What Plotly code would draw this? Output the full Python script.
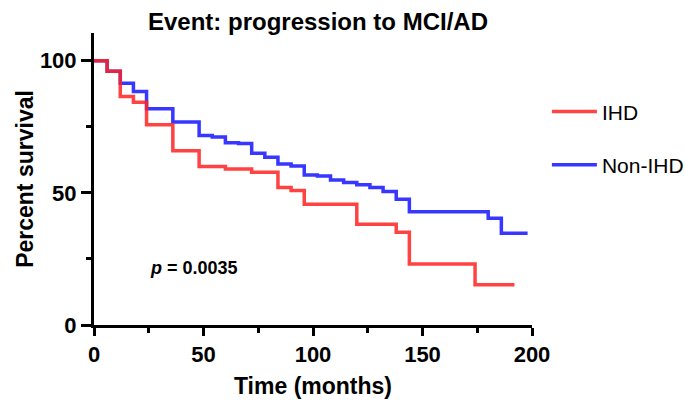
import plotly.graph_objects as go

# Kaplan-Meier step data (months, percent survival)
ihd_time = [0, 6, 12, 18, 24, 36, 48, 60, 72, 84, 90, 96, 120, 138, 144, 174, 192]
ihd_surv = [100, 96, 86.5, 84.3, 75.8, 65.9, 60.0, 59.0, 57.8, 52.0, 50.9, 45.7, 38.1, 35.1, 23.1, 15.2, 15.2]

non_time = [0, 6, 12, 18, 24, 36, 48, 54, 60, 66, 72, 78, 84, 90, 96, 102, 108, 114, 120, 126,
            132, 138, 144, 180, 186, 198]
non_surv = [100, 96, 91.5, 88.4, 81.8, 76.8, 71.7, 71.1, 69.0, 68.7, 65.0, 63.5, 60.9, 60.2, 56.8,
            56.4, 54.9, 53.9, 53.1, 52.0, 50.5, 47.6, 42.9, 40.4, 34.7, 34.7]

x_ticks = [0, 50, 100, 150, 200]
y_ticks = [0, 50, 100]
x_labels = ["<b>%d</b>" % v for v in x_ticks]
y_labels = ["<b>%d</b>" % v for v in y_ticks]

FONT = "Liberation Sans, Arial, sans-serif"

fig = go.Figure()
fig.add_trace(go.Scatter(
    x=non_time, y=non_surv, mode="lines", name="Non-IHD",
    line=dict(color="rgb(55,55,255)", width=3.5, shape="hv"),
    legendgroup="b", legendrank=2,
))
fig.add_trace(go.Scatter(
    x=ihd_time, y=ihd_surv, mode="lines", name="IHD",
    line=dict(color="rgb(255,35,35)", width=3.5, shape="hv"),
    opacity=0.85,
    legendgroup="a", legendrank=1,
))

fig.add_annotation(
    x=24.5, y=21.6, xref="x", yref="y", xanchor="left", yanchor="middle",
    text="<b><i>p</i> = 0.0035</b>", showarrow=False,
    font=dict(family=FONT, size=18, color="black"),
)

fig.update_layout(
    width=685, height=406,
    margin=dict(l=94, r=153, t=33, b=81, autoexpand=False),
    paper_bgcolor="white", plot_bgcolor="white",
    title=dict(text="<b>Event: progression to MCI/AD</b>", x=318 / 685, xanchor="center",
               xref="container", yref="container",
               y=1 - 22 / 406, yanchor="middle", automargin=False,
               font=dict(family=FONT, size=24, color="black")),
    legend=dict(x=1.034, y=0.80, xanchor="left", yanchor="top",
                font=dict(family=FONT, size=21, color="black"),
                tracegroupgap=23, itemwidth=45, bgcolor="rgba(0,0,0,0)"),
    xaxis=dict(
        range=[0, 200], tickvals=x_ticks, ticktext=x_labels, ticks="outside", ticklen=8, tickwidth=3,
        tickcolor="black", showline=True, linecolor="black", linewidth=3,
        showgrid=False, zeroline=False, automargin=False,
        minor=dict(tickvals=[25, 75, 125, 175], ticks="outside", ticklen=5, tickwidth=3,
                   tickcolor="black", showgrid=False),
        tickfont=dict(family=FONT, size=22, color="black"),
        title=dict(text="<b>Time (months)</b>", font=dict(family=FONT, size=23, color="black"),
                   standoff=12),
    ),
    yaxis=dict(
        range=[0, 110.5], tickvals=y_ticks, ticktext=y_labels, ticks="outside", ticklen=10, tickwidth=3,
        tickcolor="black", showline=True, linecolor="black", linewidth=3,
        showgrid=False, zeroline=False, automargin=False,
        minor=dict(tickvals=[25, 75], ticks="outside", ticklen=5, tickwidth=3,
                   tickcolor="black", showgrid=False),
        tickfont=dict(family=FONT, size=22, color="black"),
        title=dict(text="<b>Percent survival</b>", font=dict(family=FONT, size=23, color="black"),
                   standoff=0),
    ),
    showlegend=True,
)

fig.write_html(
    "out.html",
    config={"displayModeBar": False},
    post_script="document.body.style.margin='0';document.body.style.overflow='hidden';",
)
